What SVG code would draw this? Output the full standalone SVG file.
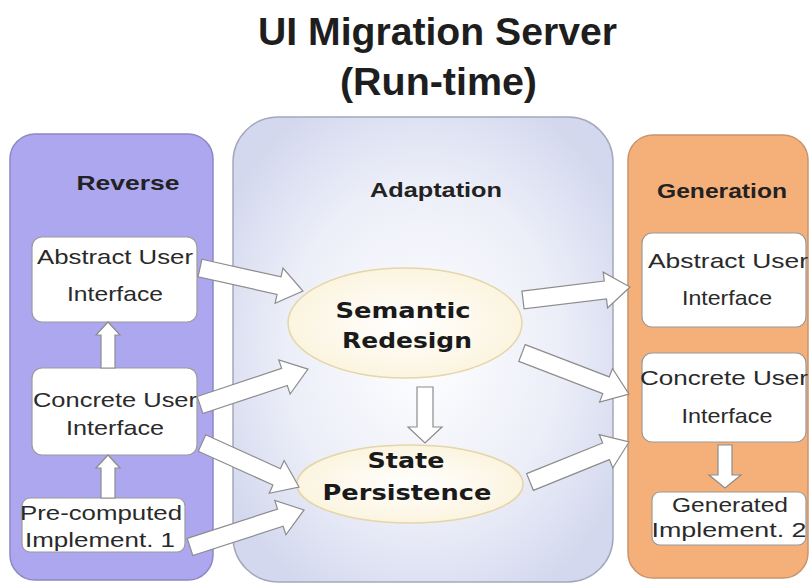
<svg xmlns="http://www.w3.org/2000/svg" width="810" height="585" viewBox="0 0 810 585">
<defs>
<radialGradient id="gMid" cx="50%" cy="50%" r="60%">
<stop offset="0" stop-color="#ffffff"/>
<stop offset="0.6" stop-color="#eceef8"/>
<stop offset="1" stop-color="#d3d8ee"/>
</radialGradient>
<radialGradient id="gEll" cx="50%" cy="50%" r="55%">
<stop offset="0" stop-color="#ffffff"/>
<stop offset="1" stop-color="#fbf3dc"/>
</radialGradient>
<style>
.title{font-family:"Liberation Sans",Arial,sans-serif;font-weight:bold;font-size:39px;fill:#1e1e1e;text-anchor:middle}
.hdr{font-family:"Liberation Sans",Arial,sans-serif;font-weight:bold;font-size:21px;fill:#222;text-anchor:middle}
.lbl{font-family:"Liberation Sans",Arial,sans-serif;font-size:21px;fill:#2a2a2a;text-anchor:middle}
.ell{font-family:"DejaVu Sans",Verdana,sans-serif;font-weight:bold;font-size:22px;fill:#1a1a1a;text-anchor:middle}
.box{fill:#ffffff;stroke:#9a9a9a;stroke-width:1.2}
.arr{fill:#ffffff;stroke:#8c8c8c;stroke-width:1.2;stroke-linejoin:miter}
.elp{fill:url(#gEll);stroke:#e4d6a8;stroke-width:1.5}
</style>
</defs>
<rect width="810" height="585" fill="#ffffff"/>
<g id="title">
<text class="title" x="437.5" y="45" textLength="359" lengthAdjust="spacingAndGlyphs">UI Migration Server</text>
<text class="title" x="438.5" y="95" textLength="197" lengthAdjust="spacingAndGlyphs">(Run-time)</text>
</g>
<g id="panel-reverse">
<rect x="10" y="134" width="203" height="446" rx="25" fill="#ada7f0" stroke="#8c88c4" stroke-width="1.5"/>
<text class="hdr" x="128" y="190" textLength="103" lengthAdjust="spacingAndGlyphs">Reverse</text>
</g>
<g id="panel-adaptation">
<rect x="233" y="117" width="380" height="465" rx="45" fill="url(#gMid)" stroke="#a4a8bc" stroke-width="1.5"/>
<text class="hdr" x="436" y="197" textLength="132" lengthAdjust="spacingAndGlyphs">Adaptation</text>
</g>
<g id="panel-generation">
<rect x="628" y="135" width="180" height="443" rx="25" fill="#f5b07a" stroke="#c8946c" stroke-width="1.5"/>
<text class="hdr" x="722" y="198" textLength="130" lengthAdjust="spacingAndGlyphs">Generation</text>
</g>
<g id="rev-aui">
<rect class="box" x="32" y="237" width="165" height="85" rx="10"/>
<text class="lbl" x="115" y="264" textLength="156" lengthAdjust="spacingAndGlyphs">Abstract User</text>
<text class="lbl" x="115" y="301" textLength="96" lengthAdjust="spacingAndGlyphs">Interface</text>
</g>
<g id="rev-cui">
<rect class="box" x="32" y="368" width="165" height="87" rx="10"/>
<text class="lbl" x="115" y="407" textLength="164" lengthAdjust="spacingAndGlyphs">Concrete User</text>
<text class="lbl" x="115" y="435" textLength="98" lengthAdjust="spacingAndGlyphs">Interface</text>
</g>
<g id="rev-impl">
<rect class="box" x="22" y="498" width="163" height="54" rx="8"/>
<text class="lbl" x="101" y="520" textLength="162" lengthAdjust="spacingAndGlyphs">Pre-computed</text>
<text class="lbl" x="100" y="547" textLength="150" lengthAdjust="spacingAndGlyphs">Implement. 1</text>
</g>
<g id="semantic-redesign">
<ellipse class="elp" cx="405" cy="323" rx="117" ry="55"/>
<text class="ell" x="403" y="318" textLength="135" lengthAdjust="spacingAndGlyphs">Semantic</text>
<text class="ell" x="407" y="348" textLength="130" lengthAdjust="spacingAndGlyphs">Redesign</text>
</g>
<g id="state-persistence">
<ellipse class="elp" cx="410" cy="484" rx="113" ry="39"/>
<text class="ell" x="406" y="468" textLength="77" lengthAdjust="spacingAndGlyphs">State</text>
<text class="ell" x="407" y="500" textLength="169" lengthAdjust="spacingAndGlyphs">Persistence</text>
</g>
<g id="gen-aui">
<rect class="box" x="642" y="233" width="164" height="94" rx="10"/>
<text class="lbl" x="728" y="268" textLength="160" lengthAdjust="spacingAndGlyphs">Abstract User</text>
<text class="lbl" x="727" y="305" textLength="90" lengthAdjust="spacingAndGlyphs">Interface</text>
</g>
<g id="gen-cui">
<rect class="box" x="642" y="353" width="164" height="89" rx="10"/>
<text class="lbl" x="724" y="385" textLength="168" lengthAdjust="spacingAndGlyphs">Concrete User</text>
<text class="lbl" x="727" y="423" textLength="91" lengthAdjust="spacingAndGlyphs">Interface</text>
</g>
<g id="gen-impl">
<rect class="box" x="652" y="492" width="154" height="53" rx="8"/>
<text class="lbl" x="730" y="512" textLength="116" lengthAdjust="spacingAndGlyphs">Generated</text>
<text class="lbl" x="729" y="537" textLength="155" lengthAdjust="spacingAndGlyphs">Implement. 2</text>
</g>
<g id="connectors">
<polygon class="arr" points="0,-7 33,-7 33,-12 46,0 33,12 33,7 0,7" transform="translate(108,368) rotate(-90)"/>
<polygon class="arr" points="0,-7 30,-7 30,-12 43,0 30,12 30,7 0,7" transform="translate(108,498) rotate(-90)"/>
<polygon class="arr" points="0,-9 81,-9 81,-18 105.5,0 81,18 81,9 0,9" transform="translate(200,268) rotate(12.6)"/>
<polygon class="arr" points="0,-9 89,-9 89,-18 113.8,0 89,18 89,9 0,9" transform="translate(200,405) rotate(-18.4)"/>
<polygon class="arr" points="0,-9 82,-9 82,-18 106.5,0 82,18 82,9 0,9" transform="translate(202,443) rotate(24.4)"/>
<polygon class="arr" points="0,-9 95,-9 95,-18 119.9,0 95,18 95,9 0,9" transform="translate(190,547) rotate(-18)"/>
<polygon class="arr" points="0,-8 40,-8 40,-17 56,0 40,17 40,8 0,8" transform="translate(425,387) rotate(90)"/>
<polygon class="arr" points="0,-9 83,-9 83,-18 107.8,0 83,18 83,9 0,9" transform="translate(523,300) rotate(-6.9)"/>
<polygon class="arr" points="0,-9 90,-9 90,-18 114.6,0 90,18 90,9 0,9" transform="translate(522,353) rotate(21)"/>
<polygon class="arr" points="0,-9 82,-9 82,-18 106.8,0 82,18 82,9 0,9" transform="translate(530,482) rotate(-22)"/>
<polygon class="arr" points="0,-7 30,-7 30,-16 43,0 30,16 30,7 0,7" transform="translate(725,445) rotate(90)"/>
</g>
</svg>
